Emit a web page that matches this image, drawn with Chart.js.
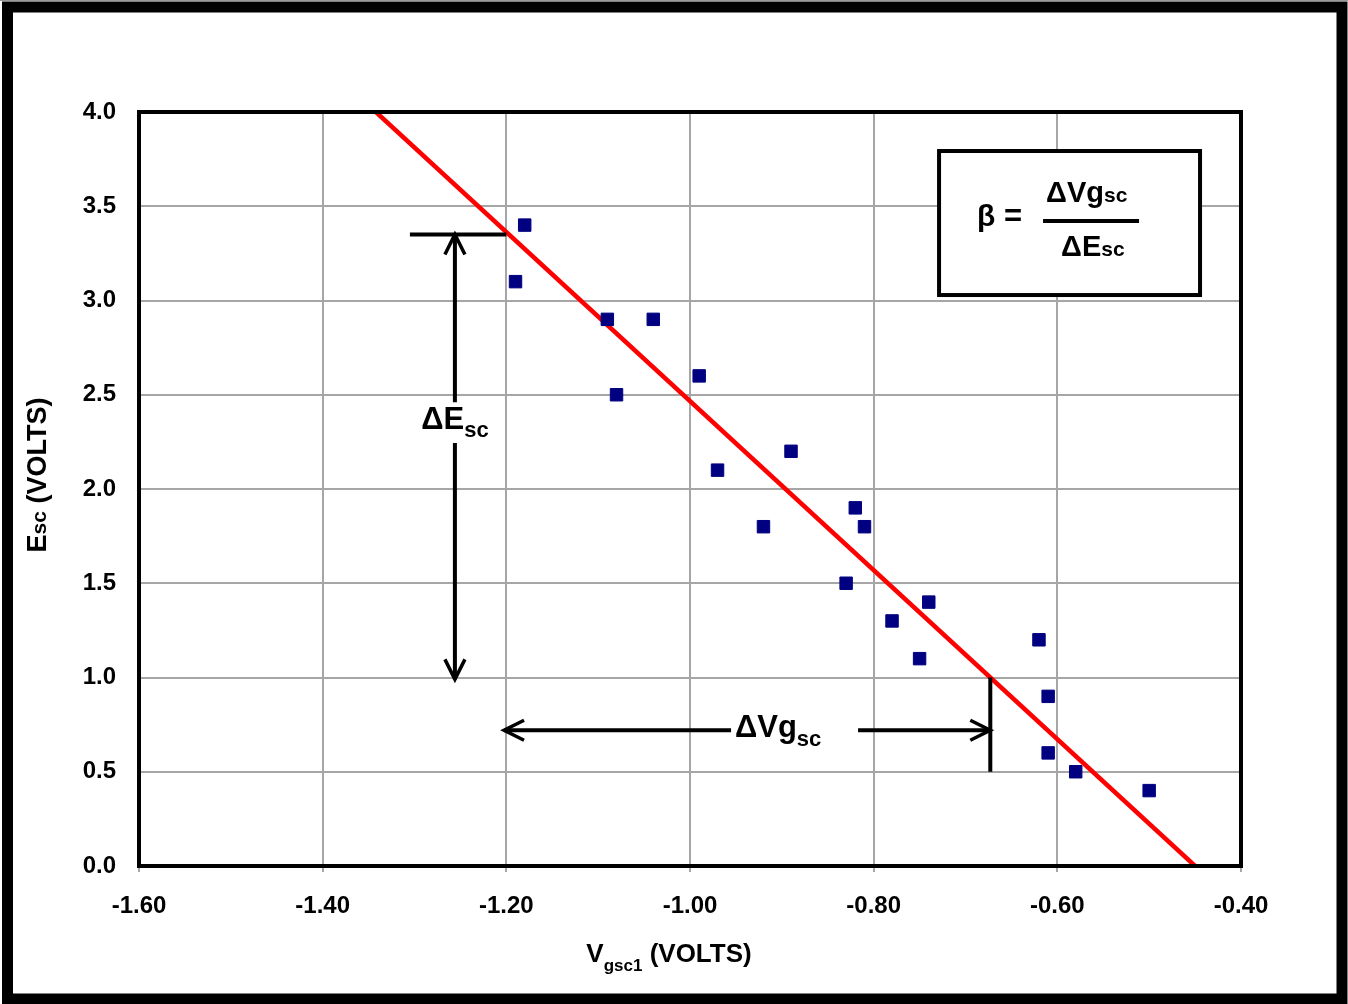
<!DOCTYPE html>
<html><head><meta charset="utf-8">
<script src="https://cdn.jsdelivr.net/npm/chart.js@4"></script>
<style>html,body{margin:0;padding:0;background:#fff}canvas{display:block}</style>
</head><body>
<canvas id="c" width="1348" height="1004"></canvas>
<script>
// ---- data ----
const xTickValues = [-1.60, -1.40, -1.20, -1.00, -0.80, -0.60, -0.40];
const yTickValues = [0.0, 0.5, 1.0, 1.5, 2.0, 2.5, 3.0, 3.5, 4.0];
const vgsc = [-1.18, -1.19, -1.09, -1.04, -1.08, -0.99, -0.97, -0.89, -0.92, -0.82, -0.81, -0.83, -0.74, -0.78, -0.75, -0.62, -0.61, -0.61, -0.58, -0.50];
const esc  = [ 3.40,  3.10,  2.90,  2.90,  2.50,  2.60,  2.10,  2.20,  1.80,  1.90,  1.80,  1.50,  1.40,  1.30,  1.10,  1.20,  0.90,  0.60,  0.50,  0.40];
const fitX = [-1.342, -0.45];
const fitY = [4.0, 0.0];
// annotation anchors (data units)
const escArrowX = -1.256, escArrowTop = 3.35, escArrowBottom = 0.99, escCapLeft = -1.305, escCapRight = -1.20;
const escGap = [2.46, 2.244], escLabelY = 2.318;
const vgArrowY = 0.72, vgArrowLeft = -1.2025, vgArrowRight = -0.673, vgGap = [-0.9553, -0.817], vgLabelX = -0.904, vgLabelY = 0.684;
const vgLineTop = 1.0, vgLineBottom = 0.5;
const boxCorners = [-0.7288, 3.793, -0.4446, 3.029];

const FONT = '"Liberation Sans", Arial, sans-serif';

function drawParts(ctx, parts, x, y, align) {
  let total = 0;
  parts.forEach(p => { ctx.font = 'bold ' + p.size + 'px ' + FONT; p.w = ctx.measureText(p.t).width; total += p.w; });
  let cx = align === 'center' ? x - total / 2 : (align === 'right' ? x - total : x);
  ctx.textBaseline = 'alphabetic'; ctx.textAlign = 'left';
  parts.forEach(p => { ctx.font = 'bold ' + p.size + 'px ' + FONT; ctx.fillText(p.t, cx, y + (p.dy || 0)); cx += p.w; });
}

function arrowHead(ctx, x, y, dir) {
  ctx.beginPath();
  if (dir === 'up') { ctx.moveTo(x - 10, y + 20); ctx.lineTo(x, y); ctx.lineTo(x + 10, y + 20); }
  if (dir === 'down') { ctx.moveTo(x - 10, y - 20); ctx.lineTo(x, y); ctx.lineTo(x + 10, y - 20); }
  if (dir === 'left') { ctx.moveTo(x + 20, y - 10); ctx.lineTo(x, y); ctx.lineTo(x + 20, y + 10); }
  if (dir === 'right') { ctx.moveTo(x - 20, y - 10); ctx.lineTo(x, y); ctx.lineTo(x - 20, y + 10); }
  ctx.stroke();
}

const overlay = {
  id: 'overlay',
  afterDatasetsDraw(chart) {
    const ctx = chart.ctx, a = chart.chartArea, xs = chart.scales.x, ys = chart.scales.y;
    const X = v => xs.getPixelForValue(v), Y = v => ys.getPixelForValue(v);
    ctx.save();
    // plot border
    ctx.strokeStyle = '#000'; ctx.lineWidth = 4;
    ctx.strokeRect(a.left, a.top, a.right - a.left, a.bottom - a.top);
    // annotations
    ctx.lineWidth = 4; ctx.lineCap = 'butt'; ctx.lineJoin = 'miter';
    ctx.beginPath();
    ctx.moveTo(X(escCapLeft), Y(escArrowTop)); ctx.lineTo(X(escCapRight), Y(escArrowTop));
    ctx.moveTo(X(escArrowX), Y(escArrowTop)); ctx.lineTo(X(escArrowX), Y(escGap[0]));
    ctx.moveTo(X(escArrowX), Y(escGap[1])); ctx.lineTo(X(escArrowX), Y(escArrowBottom));
    ctx.stroke();
    ctx.lineWidth = 3.5;
    arrowHead(ctx, X(escArrowX), Y(escArrowTop), 'up');
    arrowHead(ctx, X(escArrowX), Y(escArrowBottom), 'down');
    ctx.lineWidth = 4;
    ctx.beginPath();
    ctx.moveTo(X(vgArrowLeft), Y(vgArrowY)); ctx.lineTo(X(vgGap[0]), Y(vgArrowY));
    ctx.moveTo(X(vgGap[1]), Y(vgArrowY)); ctx.lineTo(X(vgArrowRight), Y(vgArrowY));
    ctx.moveTo(X(vgArrowRight), Y(vgLineTop)); ctx.lineTo(X(vgArrowRight), Y(vgLineBottom));
    ctx.stroke();
    ctx.lineWidth = 3.5;
    arrowHead(ctx, X(vgArrowLeft), Y(vgArrowY), 'left');
    arrowHead(ctx, X(vgArrowRight), Y(vgArrowY), 'right');
    ctx.fillStyle = '#000';
    drawParts(ctx, [{t: 'ΔE', size: 31}, {t: 'sc', size: 22, dy: 8}], X(escArrowX), Y(escLabelY), 'center');
    drawParts(ctx, [{t: 'ΔVg', size: 31}, {t: 'sc', size: 22, dy: 9}], X(vgLabelX), Y(vgLabelY), 'center');
    // formula box
    const bx0 = X(boxCorners[0]), by0 = Y(boxCorners[1]), bx1 = X(boxCorners[2]), by1 = Y(boxCorners[3]);
    ctx.fillStyle = '#fff'; ctx.fillRect(bx0, by0, bx1 - bx0, by1 - by0);
    ctx.strokeStyle = '#000'; ctx.lineWidth = 4; ctx.strokeRect(bx0, by0, bx1 - bx0, by1 - by0);
    ctx.fillStyle = '#000';
    drawParts(ctx, [{t: 'β', size: 30}, {t: ' =', size: 31}], bx0 + 38, by0 + 75, 'left');
    drawParts(ctx, [{t: 'ΔVg', size: 29}, {t: 'sc', size: 21}], bx0 + 107, by0 + 51, 'left');
    ctx.lineWidth = 4; ctx.beginPath(); ctx.moveTo(bx0 + 104, by0 + 70); ctx.lineTo(bx0 + 200, by0 + 70); ctx.stroke();
    drawParts(ctx, [{t: 'ΔE', size: 29}, {t: 'sc', size: 21}], bx0 + 122, by0 + 105, 'left');
    ctx.restore();
  },
  afterDraw(chart) {
    const ctx = chart.ctx;
    ctx.save();
    ctx.fillStyle = '#000';
    // axis titles
    drawParts(ctx, [{t: 'V', size: 26}, {t: 'gsc1', size: 17, dy: 9}, {t: ' (VOLTS)', size: 26}], 669, 962, 'center');
    ctx.translate(46, 475); ctx.rotate(-Math.PI / 2);
    drawParts(ctx, [{t: 'E', size: 27}, {t: 'sc', size: 21}, {t: ' (VOLTS)', size: 27}], 0, 0, 'center');
    ctx.restore();
    // outer frame
    ctx.save();
    ctx.strokeStyle = '#999'; ctx.lineWidth = 1;
    ctx.beginPath(); ctx.moveTo(0, 0.5); ctx.lineTo(1348, 0.5); ctx.stroke();
    ctx.strokeStyle = '#000'; ctx.lineWidth = 11;
    ctx.strokeRect(7.5, 7, 1342 - 7.5, 999 - 7);
    ctx.restore();
  }
};

new Chart(document.getElementById('c'), {
  type: 'scatter',
  data: {
    datasets: [
      {
        label: 'fit', data: fitX.map((x, i) => ({x, y: fitY[i]})), showLine: true,
        borderColor: '#ff0000', borderWidth: 4.5, pointRadius: 0, fill: false, order: 2
      },
      {
        label: 'points', data: vgsc.map((x, i) => ({x, y: esc[i]})),
        pointStyle: 'rect', pointRadius: 8.8, pointBorderWidth: 1,
        pointBackgroundColor: '#000080', pointBorderColor: '#000080', order: 1
      }
    ]
  },
  options: {
    responsive: false, animation: false, devicePixelRatio: 1,
    layout: {padding: {top: 112, right: 107, left: 0, bottom: 0}},
    plugins: {legend: {display: false}, tooltip: {enabled: false}},
    scales: {
      x: {
        type: 'linear', min: xTickValues[0], max: xTickValues[xTickValues.length - 1],
        afterBuildTicks: s => { s.ticks = xTickValues.map(v => ({value: v})); },
        afterFit: s => { s.height = 138; },
        ticks: {callback: v => v.toFixed(2), color: '#000', font: {family: FONT, size: 24, weight: 'bold'}, padding: 20, maxRotation: 0},
        grid: {color: '#a6a6a6', lineWidth: 2, drawTicks: true, tickLength: 6, tickColor: '#a6a6a6'},
        border: {display: false}
      },
      y: {
        type: 'linear', min: yTickValues[0], max: yTickValues[yTickValues.length - 1],
        afterBuildTicks: s => { s.ticks = yTickValues.map(v => ({value: v})); },
        afterFit: s => { s.width = 139; },
        ticks: {callback: v => v.toFixed(1), color: '#000', font: {family: FONT, size: 24, weight: 'bold'}, padding: 23},
        grid: {color: '#a6a6a6', lineWidth: 2, drawTicks: false},
        border: {display: false}
      }
    }
  },
  plugins: [overlay]
});
</script>
</body></html>
